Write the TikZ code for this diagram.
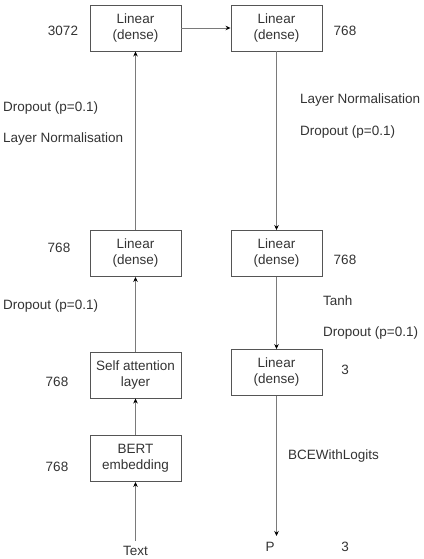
\documentclass[tikz,border=0pt]{standalone}
\usepackage{fontspec}
\setmainfont{Liberation Sans}
\usetikzlibrary{arrows.meta}
\definecolor{txtc}{HTML}{333333}
\definecolor{boxc}{HTML}{555555}
\definecolor{linec}{HTML}{7A7A7A}
\tikzset{
  box/.style={draw=boxc, line width=0.9pt, minimum width=91pt, minimum height=46pt, inner sep=0pt, align=center, text=txtc},
  lbl/.style={text=txtc, inner sep=0pt},
  lblw/.style={text=txtc, inner sep=0pt, anchor=west},
  arr/.style={draw=linec, line width=0.9pt, -{Stealth[length=5pt,width=4.5pt,color=black]}}
}
\begin{document}
\begin{tikzpicture}[x=1pt,y=-1pt,font=\fontsize{13.5}{16}\selectfont]
\useasboundingbox (0,0) rectangle (423,559);
% boxes
\node[box] (l1) at (135.5,28) {Linear\\(dense)};
\node[box] (r1) at (276.5,28) {Linear\\(dense)};
\node[box] (l2) at (135.5,253.5) {Linear\\(dense)};
\node[box] (r2) at (276.5,253.5) {Linear\\(dense)};
\node[box] (l3) at (135.5,375) {Self attention\\layer};
\node[box] (r3) at (276.5,372.5) {Linear\\(dense)};
\node[box] (l4) at (135.5,458.5) {BERT\\embedding};
\node[lbl] (txt) at (135.5,551) {Text};
\node[lbl] (p) at (270,547) {P};
\coordinate (pend) at (276.5,536);
\coordinate (tstart) at (135.5,541);
% labels
\node[lbl] (n1) at (63,31) {3072};
\node[lbl] (n2) at (345,31) {768};
\node[lbl] (n3) at (59,248) {768};
\node[lbl] (n4) at (345,260) {768};
\node[lbl] (n5) at (57,382) {768};
\node[lbl] (n6) at (345,370) {3};
\node[lbl] (n7) at (57,467) {768};
\node[lbl] (n8) at (345,547) {3};
\node[lblw] (a1) at (3,108) {Dropout (p=0.1)};
\node[lblw] (a2) at (3,139) {Layer Normalisation};
\node[lblw] (a3) at (300,100) {Layer Normalisation};
\node[lblw] (a4) at (300,132) {Dropout (p=0.1)};
\node[lblw] (a5) at (3,306) {Dropout (p=0.1)};
\node[lblw] (a6) at (323,301) {Tanh};
\node[lblw] (a7) at (323,333) {Dropout (p=0.1)};
\node[lblw] (a8) at (288,456) {BCEWithLogits};
% arrows
\draw[arr] (tstart) -- (l4.south);
\draw[arr] (l4.north) -- (l3.south);
\draw[arr] (l3.north) -- (l2.south);
\draw[arr] (l2.north) -- (l1.south);
\draw[arr] (l1.east) -- (r1.west);
\draw[arr] (r1.south) -- (r2.north);
\draw[arr] (r2.south) -- (r3.north);
\draw[arr] (r3.south) -- (pend);
\end{tikzpicture}
\end{document}
